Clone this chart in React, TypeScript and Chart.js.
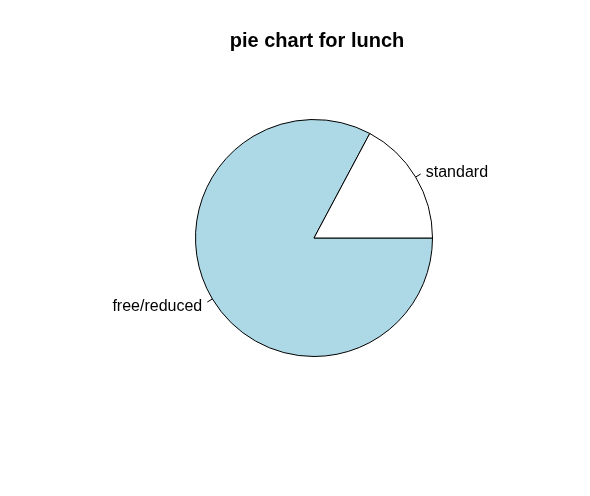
import React, { useEffect, useRef } from "react";
import { Chart, registerables } from "chart.js";

Chart.register(...registerables);

const categories = ["free/reduced", "standard"];
const shares = [82.8, 17.2];
const sliceColors = ["#ADD8E6", "#FFFFFF"];
const chartTitle = "pie chart for lunch";

const FONT = "'Liberation Sans', Arial, Helvetica, sans-serif";

const labelPlugin = {
  id: "rPieLabels",
  afterDraw(chart: any) {
    const ctx = chart.ctx;
    const meta = chart.getDatasetMeta(0);
    ctx.save();
    // title
    ctx.fillStyle = "#000";
    ctx.font = `bold 20px ${FONT}`;
    ctx.textAlign = "center";
    ctx.textBaseline = "alphabetic";
    ctx.fillText(chartTitle, 317, 47);
    // labels
    ctx.font = `16px ${FONT}`;
    ctx.strokeStyle = "#000";
    ctx.lineWidth = 1;
    meta.data.forEach((arc: any, i: number) => {
      const mid = (arc.startAngle + arc.endAngle) / 2;
      const r = arc.outerRadius;
      const c = Math.cos(mid);
      const s = Math.sin(mid);
      ctx.beginPath();
      ctx.moveTo(arc.x + c * r, arc.y + s * r);
      ctx.lineTo(arc.x + c * r * 1.05, arc.y + s * r * 1.05);
      ctx.stroke();
      ctx.textAlign = c >= 0 ? "left" : "right";
      ctx.textBaseline = "middle";
      ctx.fillText(categories[i], arc.x + c * r * 1.1, arc.y + s * r * 1.1 + 2);
    });
    ctx.restore();
  },
};

export default function App() {
  const ref = useRef<HTMLCanvasElement>(null);
  useEffect(() => {
    const chart = new Chart(ref.current!, {
      type: "pie",
      data: {
        labels: categories,
        datasets: [
          {
            data: shares,
            backgroundColor: sliceColors,
            borderColor: "#000",
            borderWidth: 1,
          },
        ],
      },
      options: {
        animation: false,
        responsive: false,
        rotation: 90,
        layout: { padding: { left: 195, top: 119, right: 157, bottom: 139 } },
        plugins: {
          legend: { display: false },
          title: { display: false },
          tooltip: { enabled: false },
        },
      },
      plugins: [labelPlugin],
    });
    return () => chart.destroy();
  }, []);
  return (
    <div style={{ position: "fixed", left: 0, top: 0, width: 590, height: 496, background: "#fff" }}>
      <canvas ref={ref} width={590} height={496} style={{ width: 590, height: 496 }} />
    </div>
  );
}
